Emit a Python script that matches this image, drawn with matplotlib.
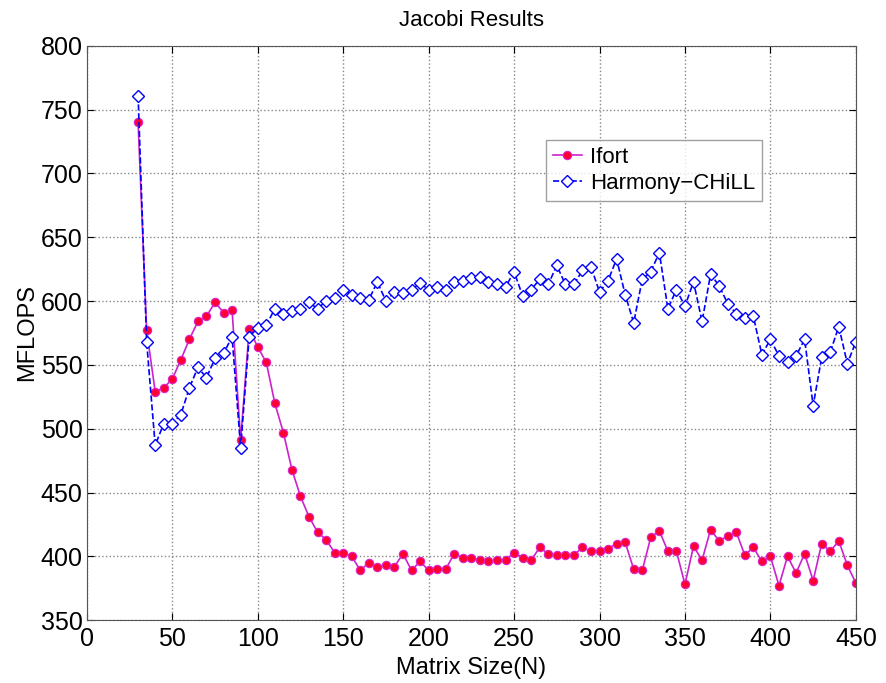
import numpy as np
import matplotlib
matplotlib.use("Agg")
import matplotlib.pyplot as plt

# Matrix sizes N
sizes = list(range(30, 455, 5))

# ifort MFLOPS
ifort = [740, 577, 529, 532, 539, 554, 570, 584, 588, 599,
         591, 593, 491, 578, 564, 552, 520, 497, 468, 447,
         431, 419, 413, 403, 403, 400, 389, 395, 392, 393,
         392, 402, 389, 396, 389, 390, 390, 402, 399, 399,
         397, 396, 397, 397, 403, 399, 397, 407, 402, 401,
         401, 401, 407, 404, 404, 406, 410, 411, 390, 389,
         415, 420, 404, 404, 378, 408, 397, 421, 412, 416,
         419, 401, 407, 396, 400, 377, 400, 387, 402, 381,
         410, 404, 412, 393, 379]

# Harmony-CHiLL MFLOPS
chill = [761, 568, 487, 504, 504, 511, 532, 548, 540, 555,
         559, 572, 485, 572, 579, 581, 594, 590, 592, 594,
         599, 594, 600, 602, 609, 605, 602, 601, 615, 600,
         607, 606, 609, 614, 609, 611, 609, 615, 616, 618,
         619, 615, 613, 611, 623, 604, 609, 617, 613, 628,
         613, 613, 624, 627, 607, 616, 633, 605, 583, 617,
         623, 638, 594, 609, 596, 615, 584, 621, 612, 598,
         590, 587, 588, 558, 570, 557, 552, 557, 570, 518,
         556, 560, 580, 551, 568]

plt.rcParams['font.family'] = ['Liberation Sans', 'DejaVu Sans']

fig = plt.figure(figsize=(8.86, 6.83), dpi=100)
ax = fig.add_axes([0.098, 0.092, 0.868, 0.841])

ax.plot(sizes, ifort, '-', color='#cc22cc', lw=1.2, marker='o', ms=6,
        mfc='#ff0033', mec='#dd22cc', mew=0.8, label='Ifort')
ax.plot(sizes, chill, '--', color='#0000ff', lw=1.2, marker='D', ms=6,
        mfc='white', mec='#0000ff', mew=1.0, label='Harmony\u2212CHiLL')

ax.set_xlim(0, 450)
ax.set_ylim(350, 800)
ax.set_xticks(np.arange(0, 451, 50))
ax.set_yticks(np.arange(350, 801, 50))
ax.tick_params(direction='in', labelsize=18, length=5, top=True, right=True)
ax.tick_params(axis='x', pad=5)
ax.tick_params(axis='y', pad=3)
ax.grid(True, linestyle=':', color='#888888', lw=1.0)
for s in ax.spines.values():
    s.set_color('#555555')

ax.set_title('Jacobi Results', fontsize=16, pad=14)
ax.set_xlabel('Matrix Size(N)', fontsize=17, labelpad=4)
ax.set_ylabel('MFLOPS', fontsize=17, labelpad=2)

leg = ax.legend(loc='upper left', bbox_to_anchor=(0.597, 0.836), fontsize=16,
                frameon=True, fancybox=False, edgecolor='#888888',
                handlelength=1.3, handletextpad=0.4, borderpad=0.3,
                labelspacing=0.25, borderaxespad=0)
leg.get_frame().set_linewidth(1.0)

fig.savefig('out.png', dpi=100, facecolor='white')
